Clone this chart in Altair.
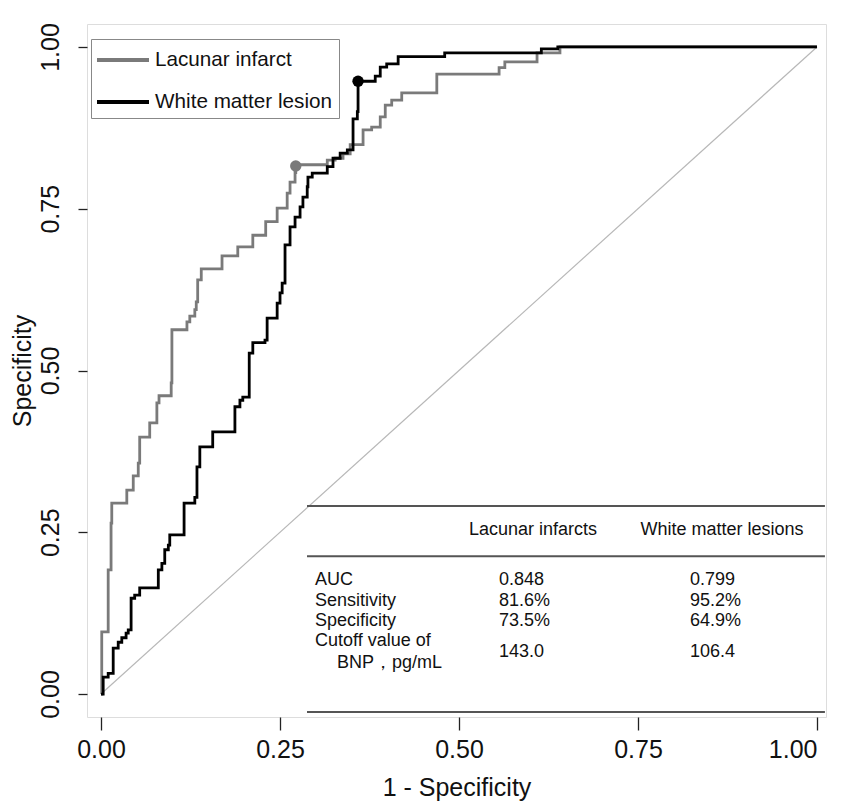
import altair as alt
import pandas as pd

# ---------------- data ----------------
series_names = ["Lacunar infarct", "White matter lesion"]
series_colors = ["#7a7a7a", "#000000"]

lac_fpr = [0.0, 0.001, 0.010, 0.014, 0.015, 0.036, 0.045, 0.052, 0.054, 0.068,
           0.078, 0.081, 0.098, 0.099, 0.120, 0.124, 0.131, 0.133, 0.135, 0.140,
           0.169, 0.191, 0.212, 0.230, 0.246, 0.260, 0.264, 0.271, 0.272, 0.316,
           0.327, 0.338, 0.348, 0.366, 0.378, 0.390, 0.397, 0.406, 0.420, 0.469,
           0.556, 0.564, 0.609, 0.641, 1.0]
lac_tpr = [0.0, 0.096, 0.192, 0.264, 0.295, 0.315, 0.337, 0.357, 0.397, 0.419,
           0.450, 0.461, 0.481, 0.563, 0.575, 0.584, 0.594, 0.606, 0.640, 0.657,
           0.677, 0.691, 0.709, 0.730, 0.751, 0.774, 0.791, 0.806, 0.818, 0.825,
           0.828, 0.835, 0.849, 0.872, 0.876, 0.892, 0.910, 0.918, 0.929, 0.958,
           0.968, 0.977, 0.991, 1.0, 1.0]

wml_fpr = [0.0, 0.003, 0.010, 0.017, 0.024, 0.029, 0.035, 0.038, 0.042, 0.047,
           0.054, 0.080, 0.085, 0.089, 0.094, 0.096, 0.116, 0.131, 0.134, 0.138,
           0.156, 0.187, 0.194, 0.198, 0.207, 0.212, 0.229, 0.232, 0.246, 0.250,
           0.253, 0.257, 0.264, 0.271, 0.278, 0.282, 0.288, 0.289, 0.295, 0.316,
           0.324, 0.334, 0.344, 0.352, 0.358, 0.359, 0.383, 0.390, 0.399, 0.415,
           0.480, 0.615, 0.638, 1.0]
wml_tpr = [0.0, 0.026, 0.032, 0.071, 0.080, 0.087, 0.094, 0.099, 0.148, 0.153,
           0.164, 0.192, 0.202, 0.223, 0.230, 0.246, 0.295, 0.304, 0.351, 0.382,
           0.405, 0.444, 0.454, 0.459, 0.527, 0.543, 0.547, 0.581, 0.604, 0.620,
           0.635, 0.694, 0.722, 0.737, 0.753, 0.768, 0.784, 0.799, 0.805, 0.815,
           0.828, 0.836, 0.841, 0.889, 0.900, 0.947, 0.955, 0.969, 0.974, 0.985,
           0.991, 0.997, 1.0, 1.0]

cut_fpr = [0.272, 0.359]
cut_tpr = [0.816, 0.947]

ref_x = [0.0, 1.0]
ref_y = [0.0, 1.0]

x_ticks = [0.0, 0.25, 0.5, 0.75, 1.0]
y_ticks = [0.0, 0.25, 0.5, 0.75, 1.0]

table_header = ["Lacunar infarcts", "White matter lesions"]
table_rows = ["AUC", "Sensitivity", "Specificity", "Cutoff value of", "BNP，pg/mL"]
lac_values = ["0.848", "81.6%", "73.5%", "143.0"]
wml_values = ["0.799", "95.2%", "64.9%", "106.4"]

# ---------------- build tables ----------------
rows = []
for i, (fx, ty) in enumerate(zip(lac_fpr, lac_tpr)):
    rows.append({"series": series_names[0], "idx": i, "fpr": fx, "tpr": ty})
for i, (fx, ty) in enumerate(zip(wml_fpr, wml_tpr)):
    rows.append({"series": series_names[1], "idx": i, "fpr": fx, "tpr": ty})
roc_df = pd.DataFrame(rows)

cut_df = pd.DataFrame({"series": series_names, "fpr": cut_fpr, "tpr": cut_tpr})
ref_df = pd.DataFrame({"fpr": ref_x, "tpr": ref_y})

# layout (data units) of the inset table
X_MIN, X_MAX = -0.0196, 1.0126
Y_MIN, Y_MAX = -0.0355, 1.0355
tab_left = 0.2877
rule_y = [0.2906, 0.2130, -0.0278]
header_y = 0.2535
header_x = [0.6034, 0.8673]
row_y = [0.1762, 0.1437, 0.1128, 0.0819, 0.0479]
row_x = [0.2989, 0.2989, 0.2989, 0.2989, 0.3296]
val_x = [0.5559, 0.8226]
val_y = [0.1762, 0.1437, 0.1128, 0.0649]

rule_df = pd.DataFrame({"y": rule_y, "x": [tab_left] * 3, "x2": [X_MAX - 0.0015] * 3})
head_df = pd.DataFrame({"text": table_header, "x": header_x, "y": [header_y] * 2})
left_rows = [{"text": t, "x": x, "y": y} for t, x, y in zip(table_rows, row_x, row_y)]
for vals, vx in zip([lac_values, wml_values], val_x):
    for t, vy in zip(vals, val_y):
        left_rows.append({"text": t, "x": vx, "y": vy})
left_df = pd.DataFrame(left_rows)

FONT = "Liberation Sans"

xscale = alt.Scale(domain=[X_MIN, X_MAX], nice=False, zero=False)
yscale = alt.Scale(domain=[Y_MIN, Y_MAX], nice=False, zero=False)

xaxis = alt.Axis(values=x_ticks, format=".2f", title="1 - Specificity",
                 labelFontSize=25, titleFontSize=25, labelFont=FONT, titleFont=FONT,
                 titleFontWeight="normal", labelColor="#111", titleColor="#111",
                 tickSize=13, tickColor="#222", tickWidth=1.3, labelPadding=7,
                 labelFlush=11,
                 titlePadding=13, domain=False, grid=False, zindex=1)
yaxis = alt.Axis(values=y_ticks, format=".2f", title="Specificity",
                 labelFontSize=25, titleFontSize=25, labelFont=FONT, titleFont=FONT,
                 titleFontWeight="normal", labelColor="#111", titleColor="#111",
                 labelAngle=270, labelAlign="center", labelBaseline="bottom",
                 tickSize=9, tickColor="#222", tickWidth=1.3, labelPadding=15,
                 titlePadding=3, domain=False, grid=False, zindex=1)

# a wide stroke symbol: drawn twice as long as its nominal size
legend = alt.Legend(title=None, orient="none", legendX=4, legendY=15,
                    symbolType="M-2,0H2", symbolSize=676, symbolStrokeWidth=4,
                    symbolOffset=11,
                    labelFontSize=20.7, labelFont=FONT, labelColor="#111",
                    strokeColor="#888", fillColor="white", padding=6,
                    rowPadding=17, labelOffset=17, labelLimit=400)

diag = alt.Chart(ref_df).mark_line(color="#b8b8b8", strokeWidth=1.2).encode(
    x=alt.X("fpr:Q", scale=xscale, axis=xaxis),
    y=alt.Y("tpr:Q", scale=yscale, axis=yaxis),
)

lines = alt.Chart(roc_df).mark_line(interpolate="step-after", strokeWidth=2.8).encode(
    x=alt.X("fpr:Q", scale=xscale, axis=xaxis),
    y=alt.Y("tpr:Q", scale=yscale, axis=yaxis),
    color=alt.Color("series:N", scale=alt.Scale(domain=series_names, range=series_colors),
                    legend=legend),
    order="idx:Q",
)

points = alt.Chart(cut_df).mark_circle(size=130, opacity=1).encode(
    x=alt.X("fpr:Q", scale=xscale),
    y=alt.Y("tpr:Q", scale=yscale),
    fill=alt.Fill("series:N", scale=alt.Scale(domain=series_names, range=series_colors),
                  legend=None),
)

rules = alt.Chart(rule_df).mark_rule(color="#555", strokeWidth=2).encode(
    x=alt.X("x:Q", scale=xscale),
    x2="x2:Q",
    y=alt.Y("y:Q", scale=yscale),
)

head_text = alt.Chart(head_df).mark_text(align="center", baseline="middle", fontSize=18,
                                         font=FONT, color="#111").encode(
    x=alt.X("x:Q", scale=xscale),
    y=alt.Y("y:Q", scale=yscale),
    text="text:N",
)

body_text = alt.Chart(left_df).mark_text(align="left", baseline="middle", fontSize=18,
                                         font=FONT, color="#111").encode(
    x=alt.X("x:Q", scale=xscale),
    y=alt.Y("y:Q", scale=yscale),
    text="text:N",
)

chart = alt.layer(diag, lines, points, rules, head_text, body_text).properties(
    width=739, height=693,
    autosize=alt.AutoSizeParams(type="none"),
    padding={"left": 79, "top": 16, "right": 9, "bottom": 84},
).configure_view(stroke="#222", strokeWidth=1.5).configure(background="white")

chart.save("out.html", embed_options={"renderer": "svg", "actions": False})
